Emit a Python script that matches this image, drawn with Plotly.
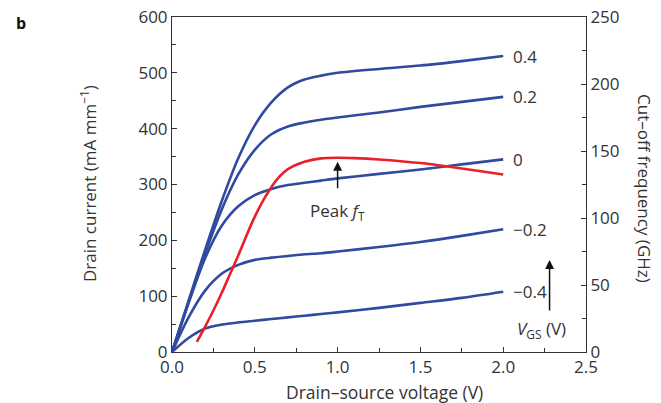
import plotly.graph_objects as go

# Drain current curves (mA/mm) vs drain-source voltage (V)
vds = [0.0, 0.1, 0.2, 0.3, 0.4, 0.5, 0.6, 0.7, 0.8, 0.9, 1.0, 1.25, 1.5, 1.75, 2.0]
id_p04 = [0, 92, 183, 270, 347, 406, 447, 474, 488, 495, 500, 507, 513, 521, 530]
id_p02 = [0, 88, 176, 255, 318, 362, 390, 404, 411, 416, 420, 429, 439, 448, 457]
id_000 = [0, 88, 168, 226, 261, 281, 292, 299, 303, 307, 311, 319, 327, 336, 345]
id_m02 = [0, 62, 110, 140, 156, 165, 169, 172, 175, 177, 180, 188, 197, 208, 220]
id_m04 = [0, 25, 42, 49, 53, 56, 59, 62, 65, 68, 71, 79, 88, 97, 108]
vgs_labels = ["0.4", "0.2", "0", "\u22120.2", "\u22120.4"]

# Cut-off frequency (GHz) vs drain-source voltage (V)
vds_ft = [0.15, 0.2, 0.25, 0.3, 0.35, 0.4, 0.45, 0.5, 0.55, 0.6, 0.65, 0.7, 0.8, 0.9, 1.0, 1.1, 1.25, 1.5, 1.75, 2.0]
ft = [7.5, 19, 31, 44, 58, 72, 87, 101, 113, 123, 131, 136.5, 142, 144.5, 145, 144.7, 143.7, 141, 137, 132.5]

BLUE = "#2f4a9e"
RED = "#e8202a"
TXT = "#333333"
FONT = "Open Sans"

fig = go.Figure()
for ys in [id_p04, id_p02, id_000, id_m02, id_m04]:
    fig.add_trace(go.Scatter(x=vds, y=ys, mode="lines", line=dict(color=BLUE, width=2.6, shape="spline", smoothing=0.8),
                             showlegend=False, hoverinfo="skip"))
fig.add_trace(go.Scatter(x=vds_ft, y=ft, mode="lines", yaxis="y2",
                         line=dict(color=RED, width=2.6, shape="spline", smoothing=0.8),
                         showlegend=False, hoverinfo="skip"))

ann = []
for lab, ys in zip(vgs_labels, [id_p04, id_p02, id_000, id_m02, id_m04]):
    ann.append(dict(x=vds[-1] + 0.05, y=ys[-1], xref="x", yref="y", text=lab, showarrow=False,
                    xanchor="left", yanchor="middle", font=dict(size=17, color=TXT, family=FONT)))

# Peak fT arrow
ipk = ft.index(max(ft))
ann.append(dict(x=vds_ft[ipk], y=ft[ipk] - 3, xref="x", yref="y2", text="", showarrow=True,
                ax=0, ay=28, arrowhead=2, arrowsize=1.2, arrowwidth=1.5, arrowcolor="#111"))
ann.append(dict(x=vds_ft[ipk], y=ft[ipk] - 3, xref="x", yref="y2", text="Peak <i>f</i><sub>T</sub>",
                showarrow=False, yshift=-50, xanchor="center", yanchor="middle",
                font=dict(size=17, color=TXT, family=FONT)))
# VGS arrow
ann.append(dict(x=2.28, y=165, xref="x", yref="y", text="", showarrow=True,
                ax=0, ay=52, arrowhead=2, arrowsize=1.2, arrowwidth=1.5, arrowcolor="#111"))
ann.append(dict(x=2.23, y=40, xref="x", yref="y", text="<i>V</i><sub>GS</sub> (V)", showarrow=False,
                xanchor="center", yanchor="middle", font=dict(size=17, color=TXT, family=FONT)))

# Titles
ann.append(dict(x=(384 - 172) / 414, y=(352 - 392) / 335, xref="paper", yref="paper", text="Drain\u2013source voltage (V)",
                showarrow=False, xanchor="center", yanchor="middle", font=dict(size=17.5, color=TXT, family=FONT)))
ann.append(dict(x=(88 - 172) / 414, y=(352 - 184) / 335, xref="paper", yref="paper",
                text="Drain current (mA mm<sup>\u22121</sup>)", textangle=-90,
                showarrow=False, xanchor="center", yanchor="middle", font=dict(size=17, color=TXT, family=FONT)))
ann.append(dict(x=(645 - 172) / 414, y=(352 - 188) / 335, xref="paper", yref="paper",
                text="Cut\u2013off frequency (GHz)", textangle=90,
                showarrow=False, xanchor="center", yanchor="middle", font=dict(size=17, color=TXT, family=FONT)))
ann.append(dict(x=(20.5 - 172) / 414, y=(352 - 22.5) / 335, xref="paper", yref="paper", text="<b>b</b>",
                showarrow=False, xanchor="center", yanchor="middle", font=dict(size=16, color="#111", family=FONT)))

axis_common = dict(showgrid=False, zeroline=False, showline=True, linecolor="#333", linewidth=1,
                   ticks="inside", ticklen=5, tickcolor="#333", tickwidth=1,
                   tickfont=dict(size=17, color=TXT, family=FONT))

fig.update_layout(
    width=661, height=403,
    margin=dict(l=172, r=75, t=17, b=51),
    paper_bgcolor="white", plot_bgcolor="white",
    xaxis=dict(range=[0, 2.5], tickvals=[0, 0.5, 1.0, 1.5, 2.0, 2.5],
               ticktext=["0.0", "0.5", "1.0", "1.5", "2.0", "2.5"], mirror=True, automargin=False,
               minor=dict(dtick=0.25, ticks="inside", ticklen=4, tickcolor="#333"), **axis_common),
    yaxis=dict(range=[0, 600], dtick=100, automargin=False,
               minor=dict(dtick=50, ticks="inside", ticklen=4, tickcolor="#333"),
               **axis_common),
    yaxis2=dict(range=[0, 250], dtick=50, overlaying="y", side="right", automargin=False,
                minor=dict(dtick=25, ticks="inside", ticklen=4, tickcolor="#333"), **axis_common),
    annotations=ann,
)

fig.write_html("out.html")
